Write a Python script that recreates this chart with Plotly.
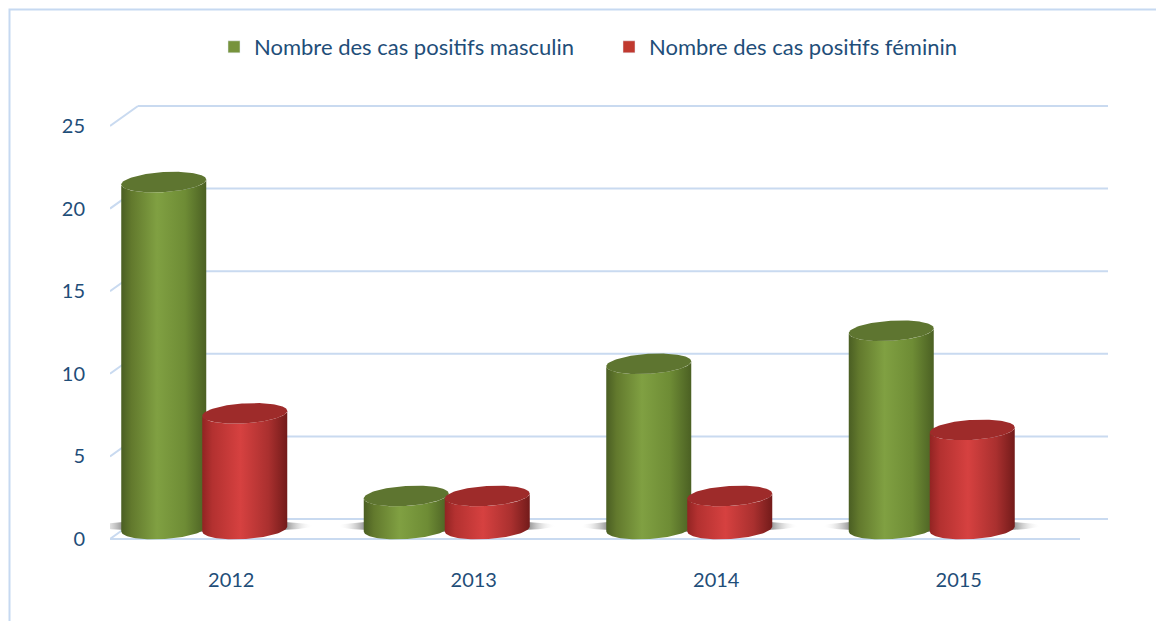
import numpy as np
import plotly.graph_objects as go

# ---------------- data ----------------
years = ["2012", "2013", "2014", "2015"]
masculin = [21, 2, 10, 12]
feminin = [7, 2, 2, 6]
y_ticks = [0, 5, 10, 15, 20, 25]
name_m = "Nombre des cas positifs masculin"
name_f = "Nombre des cas positifs féminin"

# ---------------- geometry (pixels) ----------------
W, H = 1156, 621
ML, MR, MT, MB = 110, 46, 60, 61
PX_X = 242.5          # pixels per category
PX_Y = 16.52          # pixels per unit value
ZERO_PX = 539         # pixel row of value 0 (front)
plot_w = W - ML - MR
plot_h = H - MT - MB
xr0 = -0.5
xr1 = xr0 + plot_w / PX_X
yr0 = -((H - MB) - ZERO_PX) / PX_Y
yr1 = yr0 + plot_h / PX_Y
DX = 28 / PX_X        # depth offset (x)
DY = 20 / PX_Y        # depth offset (y)

TEXT = "#1F4E79"
GRID = "#C9DAF0"
FONT = "Lato"

fig = go.Figure()

# ---------------- back wall / floor grid ----------------
shapes = []
for v in y_ticks:
    shapes.append(dict(type="line", xref="x", yref="y", x0=xr0, y0=v, x1=xr0 + DX, y1=v + DY,
                       line=dict(color=GRID, width=2), layer="below"))
    shapes.append(dict(type="line", xref="x", yref="y", x0=xr0 + DX, y0=v + DY,
                       x1=len(years) - 0.5 + DX, y1=v + DY,
                       line=dict(color=GRID, width=2), layer="below"))
shapes.append(dict(type="line", xref="x", yref="y", x0=xr0, y0=0, x1=len(years) - 0.5, y1=0,
                   line=dict(color=GRID, width=2), layer="below"))
# chart border
shapes.append(dict(type="rect", xref="paper", yref="paper",
                   x0=(9.5 - ML) / plot_w, x1=(W + 20 - ML) / plot_w,
                   y0=((H - MB) - (H + 20)) / plot_h, y1=((H - MB) - 9.5) / plot_h,
                   line=dict(color="#C6D9F1", width=2), layer="below"))

# ---------------- cylinders ----------------
GREEN_BODY = [[0, "#4A5E23"], [0.12, "#62792D"], [0.42, "#80A042"], [0.75, "#6E8C35"], [1, "#4B6023"]]
GREEN_CAP = "#5E7530"
RED_BODY = [[0, "#922423"], [0.12, "#B33130"], [0.45, "#D64140"], [0.78, "#AA302F"], [1, "#731B1A"]]
RED_CAP = "#9E2B2A"

B_PX = 10     # half height of ellipse, px
TILT_PX = 2.5 # right end higher by this amount
t_low = np.linspace(np.pi, 2 * np.pi, 60)
t_full = np.linspace(0, 2 * np.pi, 120)


def cylinder(i, lo_px, hi_px, v, body, cap):
    xl = i + lo_px / PX_X
    xh = i + hi_px / PX_X
    xc = (xl + xh) / 2
    a = (xh - xl) / 2
    b = B_PX / PX_Y
    s = TILT_PX / PX_Y
    base_c = DY / 2
    top_c = v + DY / 2
    bx = xc + a * np.cos(t_low)
    by = base_c + b * np.sin(t_low) + s * np.cos(t_low)
    tx = (xc + a * np.cos(t_low))[::-1]
    ty = (top_c + b * np.sin(t_low) + s * np.cos(t_low))[::-1]
    fig.add_trace(go.Scatter(x=np.concatenate([bx, tx, bx[:1]]), y=np.concatenate([by, ty, by[:1]]),
                             mode="lines", line=dict(width=0), fill="toself",
                             fillgradient=dict(type="horizontal", colorscale=body),
                             hoverinfo="skip", showlegend=False))
    cx = xc + a * np.cos(t_full)
    cy = top_c + b * np.sin(t_full) + s * np.cos(t_full)
    fig.add_trace(go.Scatter(x=cx, y=cy, mode="lines", line=dict(width=0), fill="toself",
                             fillcolor=cap, hoverinfo="skip", showlegend=False))


def shadow(i, lo_px, hi_px):
    xl = i + (lo_px - 26) / PX_X
    xh = i + (hi_px + 26) / PX_X
    xc = (xl + xh) / 2
    a = (xh - xl) / 2
    b = 6 / PX_Y
    c = 13 / PX_Y
    fig.add_trace(go.Scatter(x=xc + a * np.cos(t_full), y=c + b * np.sin(t_full),
                             mode="lines", line=dict(width=0), fill="toself",
                             fillgradient=dict(type="horizontal", colorscale=[
                                 [0, "rgba(255,255,255,0)"], [0.05, "rgba(200,200,200,0.3)"],
                                 [0.12, "rgba(90,90,90,0.6)"],
                                 [0.88, "rgba(90,90,90,0.6)"], [0.95, "rgba(200,200,200,0.3)"],
                                 [1, "rgba(255,255,255,0)"]]),
                             hoverinfo="skip", showlegend=False))


G_LO, G_HI = -110, -25
R_LO, R_HI = -29, 56
for i in range(len(years)):
    shadow(i, G_LO, R_HI)
for i in range(len(years)):
    cylinder(i, G_LO, G_HI, masculin[i], GREEN_BODY, GREEN_CAP)
    cylinder(i, R_LO, R_HI, feminin[i], RED_BODY, RED_CAP)

# legend entries
fig.add_trace(go.Bar(x=[None], y=[None], name=name_m, marker=dict(color="#77933C")))
fig.add_trace(go.Bar(x=[None], y=[None], name=name_f, marker=dict(color="#C0392F")))

fig.update_layout(
    width=W, height=H,
    margin=dict(l=ML, r=MR, t=MT, b=MB, autoexpand=False),
    paper_bgcolor="white", plot_bgcolor="white",
    font=dict(family=FONT, size=20, color=TEXT),
    shapes=shapes,
    showlegend=True,
    legend=dict(orientation="h", xref="container", yref="container",
                x=214 / W, y=(H - 47) / H, xanchor="left", yanchor="middle",
                font=dict(family=FONT, size=22, color=TEXT),
                bgcolor="rgba(0,0,0,0)", entrywidth=350, entrywidthmode="pixels"),
    xaxis=dict(range=[xr0, xr1], tickvals=list(range(len(years))), ticktext=years,
               showgrid=False, zeroline=False, showline=False, ticks="", fixedrange=True,
               ticklabelstandoff=6),
    yaxis=dict(range=[yr0, yr1], tickvals=y_ticks, showgrid=False, zeroline=False,
               showline=False, ticks="", ticklabelstandoff=24, fixedrange=True),
)

fig.write_html("out.html", config={"displayModeBar": False},
               post_script="document.body.style.margin='0';")
